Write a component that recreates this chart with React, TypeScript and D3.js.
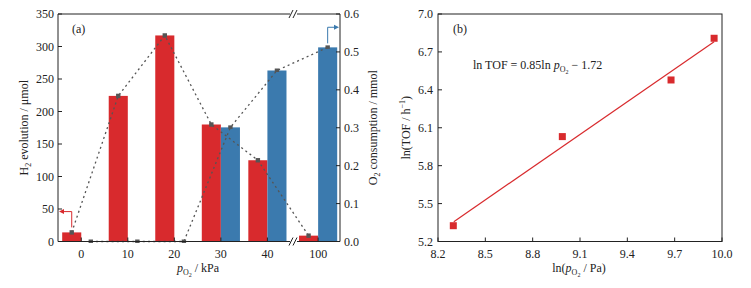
import React from "react";
import * as d3 from "d3";

// ---- Data (panel a) ----
const categories = ["0", "10", "20", "30", "40", "100"];
const h2Evolution = [14, 224, 317, 180, 125, 9]; // μmol
const o2Consumption = [0, 0, 0, 0.301, 0.451, 0.512]; // mmol
const leftTicks = [0, 50, 100, 150, 200, 250, 300, 350];
const rightTicks = [0, 0.1, 0.2, 0.3, 0.4, 0.5, 0.6];

// ---- Data (panel b) ----
const lnP = [8.297, 8.988, 9.677, 9.95];
const lnTOF = [5.325, 6.03, 6.478, 6.808];
const fitX = [8.3, 9.95];
const fitY = [5.357, 6.78];
const bxTicks = [8.2, 8.5, 8.8, 9.1, 9.4, 9.7, 10.0];
const byTicks = [5.2, 5.5, 5.8, 6.1, 6.4, 6.7, 7.0];

const RED = "#d82a2d";
const BLUE = "#3b7aae";
const DOT = "#555";
const FONT = "'Liberation Serif', 'DejaVu Serif', serif";
const BREAK_GAP = 0.09;

export default function App() {
  // Panel a geometry
  const aL = 58, aR = 340, aT = 14, aB = 241.5;
  const x = d3.scaleLinear().domain([-0.5, 5.56]).range([aL, aR]);
  const yL = d3.scaleLinear().domain([0, 350]).range([aB, aT]);
  const yR = d3.scaleLinear().domain([0, 0.6]).range([aB, aT]);
  const pos = (i: number) => i + (i >= 5 ? BREAK_GAP : 0);
  const bw = 0.41;
  const breakX = x(4.55);

  const h2Pts: [number, number][] = h2Evolution.map((v, i) => [x(pos(i) - bw / 2), yL(v)]);
  const o2Pts: [number, number][] = o2Consumption.map((v, i) => [x(pos(i) + bw / 2), yR(v)]);
  const line = d3.line();

  // Panel b geometry
  const bL = 438, bR = 722, bT = 14, bB = 241.5;
  const bx = d3.scaleLinear().domain([8.2, 10]).range([bL, bR]);
  const by = d3.scaleLinear().domain([5.2, 7]).range([bB, bT]);

  const fs = 12;
  const breakMark = (cx: number, cy: number) => (
    <g key={`brk${cx}${cy}`}>
      <rect x={cx - 3} y={cy - 5} width={7} height={10} fill="white" />
      <line x1={cx - 4} y1={cy + 4} x2={cx} y2={cy - 4} stroke="#222" strokeWidth={1} />
      <line x1={cx} y1={cy + 4} x2={cx + 4} y2={cy - 4} stroke="#222" strokeWidth={1} />
    </g>
  );

  return (
    <svg
      width={751}
      height={288}
      style={{ position: "absolute", left: 0, top: 0, background: "white" }}
      fontFamily={FONT}
    >
      {/* ===== Panel a ===== */}
      {/* bars */}
      {h2Evolution.map((v, i) => (
        <rect
          key={`r${i}`}
          x={x(pos(i) - bw)}
          y={yL(v)}
          width={x(pos(i)) - x(pos(i) - bw)}
          height={aB - yL(v)}
          fill={RED}
        />
      ))}
      {o2Consumption.map((v, i) => (
        <rect
          key={`b${i}`}
          x={x(pos(i))}
          y={yR(v)}
          width={x(pos(i) + bw) - x(pos(i))}
          height={aB - yR(v)}
          fill={BLUE}
        />
      ))}
      {/* dotted lines */}
      <path d={line(h2Pts) || ""} fill="none" stroke={DOT} strokeWidth={1.3} strokeDasharray="2,3.2" />
      <path d={line(o2Pts) || ""} fill="none" stroke={DOT} strokeWidth={1.3} strokeDasharray="2,3.2" />
      {h2Pts.map((p, i) => (
        <rect key={`hm${i}`} x={p[0] - 2.2} y={p[1] - 2.2} width={4.4} height={4.4} fill={DOT} />
      ))}
      {o2Pts.map((p, i) => (
        <rect key={`om${i}`} x={p[0] - 2.2} y={p[1] - 2} width={4.4} height={3.5} fill={DOT} />
      ))}

      {/* axes frame */}
      <line x1={aL} y1={aT} x2={aL} y2={aB} stroke="#222" />
      <line x1={aR} y1={aT} x2={aR} y2={aB} stroke="#222" />
      <line x1={aL} y1={aB} x2={aR} y2={aB} stroke="#222" />
      <line x1={aL} y1={aT} x2={aR} y2={aT} stroke="#222" />
      {breakMark(breakX, aB)}
      {breakMark(breakX, aT)}

      {/* left ticks */}
      {leftTicks.map((t) => (
        <g key={`lt${t}`}>
          <line x1={aL} x2={aL + 4} y1={yL(t)} y2={yL(t)} stroke="#222" />
          <text x={aL - 4} y={yL(t)} dy="0.35em" textAnchor="end" fontSize={fs} fill="#222">
            {t}
          </text>
        </g>
      ))}
      {/* right ticks */}
      {rightTicks.map((t) => (
        <g key={`rt${t}`}>
          <line x1={aR - 4} x2={aR} y1={yR(t)} y2={yR(t)} stroke="#222" />
          <text x={aR + 4} y={yR(t)} dy="0.35em" textAnchor="start" fontSize={fs} fill="#222">
            {d3.format(".1f")(t)}
          </text>
        </g>
      ))}
      {/* bottom ticks */}
      {categories.map((c, i) => (
        <g key={`bt${c}`}>
          <line x1={x(pos(i))} x2={x(pos(i))} y1={aB} y2={aB - 4} stroke="#222" />
          <text x={x(pos(i))} y={aB + 16} textAnchor="middle" fontSize={fs} fill="#222">
            {c}
          </text>
        </g>
      ))}

      {/* arrows */}
      <path
        d={`M${h2Pts[0][0]},${h2Pts[0][1] - 5} L${h2Pts[0][0]},${yL(46)} L${aL + 4},${yL(46)}`}
        fill="none"
        stroke={RED}
        strokeWidth={1}
      />
      <path d={`M${aL + 1},${yL(46)} l5,-2.5 l0,5 z`} fill={RED} />
      <path
        d={`M${o2Pts[5][0]},${o2Pts[5][1] - 4} L${o2Pts[5][0]},${yR(0.565)} L${aR - 5},${yR(0.565)}`}
        fill="none"
        stroke={BLUE}
        strokeWidth={1}
      />
      <path d={`M${aR - 1},${yR(0.565)} l-5,-2.5 l0,5 z`} fill={BLUE} />

      <text x={72} y={33} fontSize={fs} fill="#222">(a)</text>

      {/* axis titles */}
      <text transform={`translate(28,${(aT + aB) / 2}) rotate(-90)`} textAnchor="middle" fontSize={fs} fill="#222">
        H<tspan fontSize={8} dy={3}>2</tspan>
        <tspan dy={-3}> evolution / μmol</tspan>
      </text>
      <text transform={`translate(377,${(aT + aB) / 2}) rotate(-90)`} textAnchor="middle" fontSize={fs} fill="#222">
        O<tspan fontSize={8} dy={3}>2</tspan>
        <tspan dy={-3}> consumption / mmol</tspan>
      </text>
      <text x={198} y={272} textAnchor="middle" fontSize={fs} fill="#222">
        <tspan fontStyle="italic">p</tspan>
        <tspan fontSize={8} dy={3}>O</tspan>
        <tspan fontSize={6} dy={2}>2</tspan>
        <tspan dy={-5}> / kPa</tspan>
      </text>

      {/* ===== Panel b ===== */}
      <rect x={bL} y={bT} width={bR - bL} height={bB - bT} fill="none" stroke="#222" />
      {bxTicks.map((t) => (
        <g key={`bx${t}`}>
          <line x1={bx(t)} x2={bx(t)} y1={bB} y2={bB - 4} stroke="#222" />
          <text x={bx(t)} y={bB + 16} textAnchor="middle" fontSize={fs} fill="#222">
            {d3.format(".1f")(t)}
          </text>
        </g>
      ))}
      {byTicks.map((t) => (
        <g key={`by${t}`}>
          <line x1={bL} x2={bL + 4} y1={by(t)} y2={by(t)} stroke="#222" />
          <text x={bL - 5} y={by(t)} dy="0.35em" textAnchor="end" fontSize={fs} fill="#222">
            {d3.format(".1f")(t)}
          </text>
        </g>
      ))}
      <line x1={bx(fitX[0])} y1={by(fitY[0])} x2={bx(fitX[1])} y2={by(fitY[1])} stroke={RED} strokeWidth={1.2} />
      {lnP.map((v, i) => (
        <rect key={`pt${i}`} x={bx(v) - 3.5} y={by(lnTOF[i]) - 3.5} width={7} height={7} fill={RED} />
      ))}
      <text x={453} y={33} fontSize={fs} fill="#222">(b)</text>
      <text x={473} y={69} fontSize={fs} fill="#222">
        ln TOF = 0.85ln <tspan fontStyle="italic">p</tspan>
        <tspan fontSize={8} dy={3}>O</tspan>
        <tspan fontSize={6} dy={2}>2</tspan>
        <tspan dy={-5}> − 1.72</tspan>
      </text>
      <text transform={`translate(410,${(bT + bB) / 2}) rotate(-90)`} textAnchor="middle" fontSize={fs} fill="#222">
        ln(TOF / h<tspan fontSize={8} dy={-5}>−1</tspan>
        <tspan dy={5}>)</tspan>
      </text>
      <text x={579} y={272} textAnchor="middle" fontSize={fs} fill="#222">
        ln(<tspan fontStyle="italic">p</tspan>
        <tspan fontSize={8} dy={3}>O</tspan>
        <tspan fontSize={6} dy={2}>2</tspan>
        <tspan dy={-5}> / Pa)</tspan>
      </text>
    </svg>
  );
}
